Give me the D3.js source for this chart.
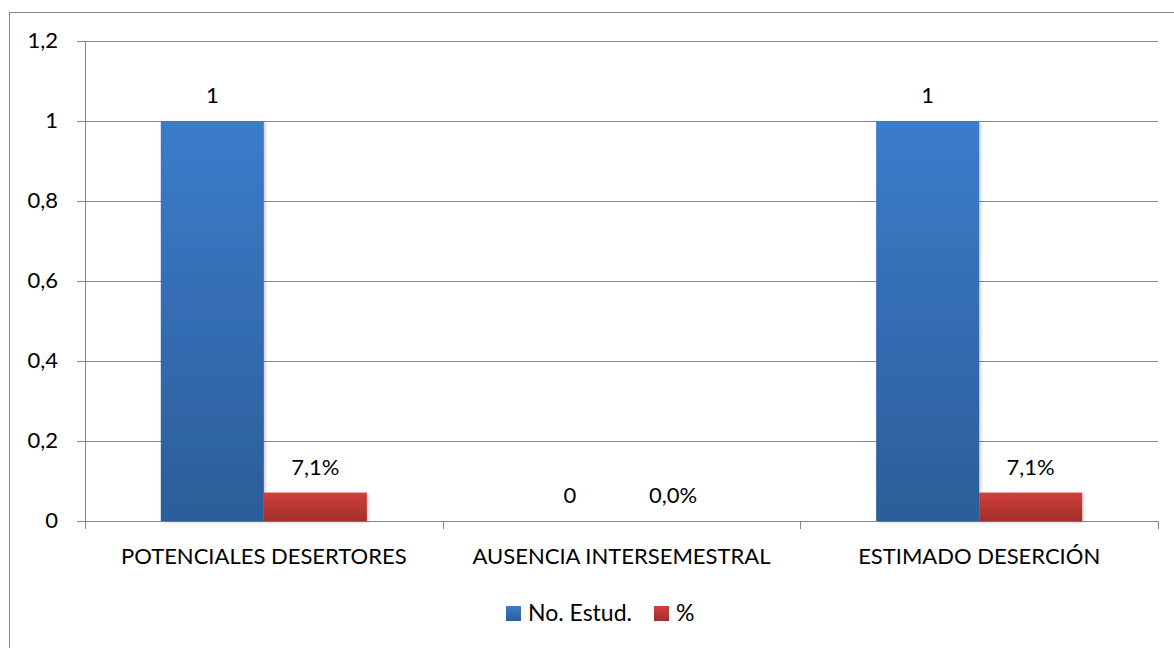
<!DOCTYPE html>
<html><head><meta charset="utf-8">
<script src="https://cdn.jsdelivr.net/npm/d3@7"></script>
<style>body{margin:0;background:#fff}svg{display:block}text{font-family:Lato,"Open Sans",sans-serif;fill:#000}</style>
</head><body><svg id="c" width="1174" height="648"></svg>
<script>
const categories = ["POTENCIALES DESERTORES","AUSENCIA INTERSEMESTRAL","ESTIMADO DESERCIÓN"];
const seriesNames = ["No. Estud.","%"];
const estud = [1,0,1];
const pct = [0.071,0,0.071];
const estudLabels = ["1","0","1"];
const pctLabels = ["7,1%","0,0%","7,1%"];
const yTicks = [0,0.2,0.4,0.6,0.8,1,1.2];
const yTickLabels = ["0","0,2","0,4","0,6","0,8","1","1,2"];

const FS = 22;
const svg = d3.select("#c");
const defs = svg.append("defs");
function grad(id, top, bot){
  const g = defs.append("linearGradient").attr("id",id).attr("x1",0).attr("y1",0).attr("x2",0).attr("y2",1);
  g.append("stop").attr("offset","0%").attr("stop-color",top);
  g.append("stop").attr("offset","100%").attr("stop-color",bot);
}
grad("gb","#3b7cca","#2c5d9a");
grad("gr","#d13f3c","#a22d2b");
const f = defs.append("filter").attr("id","sh").attr("x","-10%").attr("y","-10%").attr("width","130%").attr("height","130%");
f.append("feDropShadow").attr("dx",1.5).attr("dy",1).attr("stdDeviation",1.5).attr("flood-color","#000").attr("flood-opacity",0.22);

svg.append("rect").attr("x",9.5).attr("y",12.5).attr("width",1180).attr("height",660).attr("fill","none").attr("stroke","#868686");

const L=85, R=1158, T=41, B=521;
const x = d3.scaleBand().domain(categories).range([L,R]).paddingInner(0).paddingOuter(0);
const y = d3.scaleLinear().domain([0,1.2]).range([B,T]);
const inner = d3.scaleBand().domain(seriesNames).range([0,x.bandwidth()]).paddingInner(0).paddingOuter(0.736);

// gridlines
svg.append("g").selectAll("line").data(yTicks).join("line")
  .attr("x1",L-8).attr("x2",R).attr("y1",d=>Math.round(y(d))+0.5).attr("y2",d=>Math.round(y(d))+0.5)
  .attr("stroke","#868686").attr("stroke-width",1);
svg.append("line").attr("x1",L+0.5).attr("x2",L+0.5).attr("y1",T).attr("y2",B+8).attr("stroke","#868686");
// x ticks
const xt = categories.map(c=>x(c)).concat([R]);
svg.append("g").selectAll("line").data(xt).join("line")
  .attr("x1",d=>Math.round(d)+0.5).attr("x2",d=>Math.round(d)+0.5).attr("y1",B).attr("y2",B+8).attr("stroke","#868686");
// y labels
svg.append("g").selectAll("text").data(yTicks).join("text")
  .attr("x",58).attr("y",d=>y(d)+7).attr("text-anchor","end")
  .attr("font-size",FS).text((d,i)=>yTickLabels[i]);

const data = categories.map((c,i)=>({c, vals:[{s:seriesNames[0],v:estud[i],l:estudLabels[i],g:"url(#gb)"},{s:seriesNames[1],v:pct[i],l:pctLabels[i],g:"url(#gr)"}]}));
const grp = svg.append("g").selectAll("g").data(data).join("g").attr("transform",d=>`translate(${x(d.c)},0)`);
grp.selectAll("rect").data(d=>d.vals.filter(v=>v.v>0)).join("rect")
  .attr("x",d=>inner(d.s)).attr("width",inner.bandwidth())
  .attr("y",d=>y(d.v)).attr("height",d=>B-y(d.v)).attr("fill",d=>d.g).attr("filter","url(#sh)");
grp.selectAll("text").data(d=>d.vals).join("text")
  .attr("x",d=>inner(d.s)+inner.bandwidth()/2).attr("y",d=>y(d.v)-18)
  .attr("text-anchor","middle").attr("font-size",FS).text(d=>d.l);

// category labels
svg.append("g").selectAll("text").data(categories).join("text")
  .attr("x",d=>x(d)+x.bandwidth()/2).attr("y",564).attr("text-anchor","middle").attr("font-size",FS).text(d=>d);

// legend
const leg = [{n:seriesNames[0],g:"url(#gb)"},{n:seriesNames[1],g:"url(#gr)"}];
let lx = 506;
leg.forEach(d=>{
  const g = svg.append("g").attr("transform",`translate(${lx},606)`);
  g.append("rect").attr("width",15).attr("height",15).attr("fill",d.g);
  const t = g.append("text").attr("x",22).attr("y",15).attr("font-size",23).text(d.n);
  lx += 22 + t.node().getComputedTextLength() + 22;
});
</script></body></html>
